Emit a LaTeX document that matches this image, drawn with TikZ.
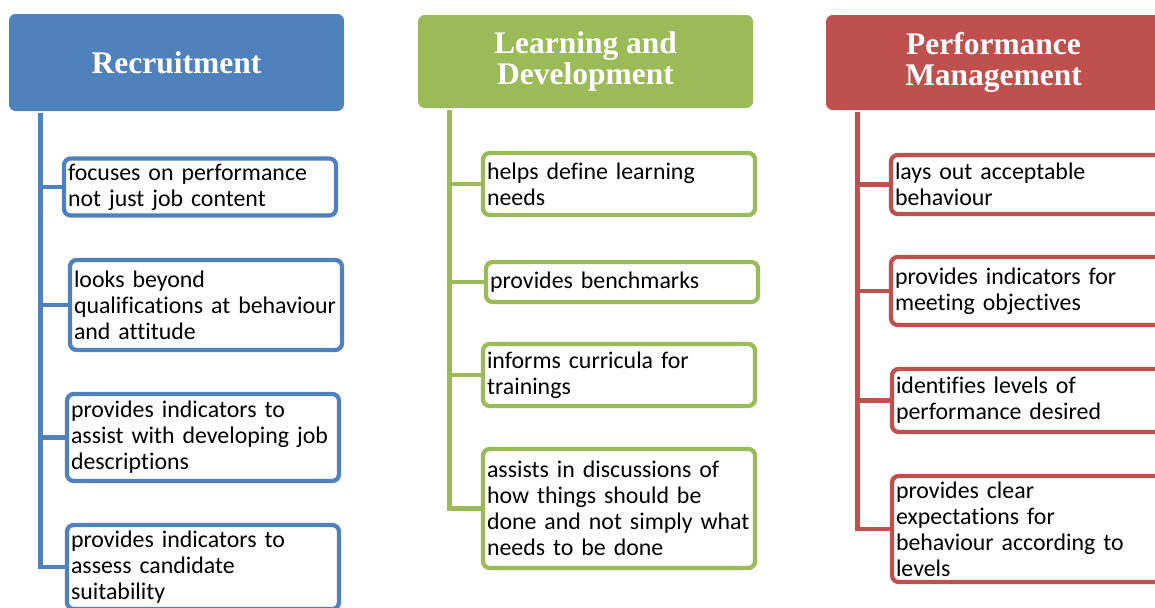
\documentclass[tikz,border=0pt]{standalone}
\usepackage{fontspec}
\setmainfont{Carlito}[Ligatures=NoCommon]
\newfontfamily\headfam{Liberation Serif}
\usepackage{tikz}
\definecolor{recblue}{HTML}{4F81BD}
\definecolor{lndgreen}{HTML}{9BBB59}
\definecolor{pmred}{HTML}{C0504D}
\tikzset{
	head/.style={rounded corners=5pt, fill=#1, text=white, align=center, minimum width=251.25pt, inner sep=0pt, font=\headfam\bfseries\fontsize{23.6}{22.8}\selectfont},
	item/.style={draw=#1, line width=3.2pt, rounded corners=5pt, fill=white, align=left, text width=198pt, inner xsep=3pt, inner ysep=1pt, font=\fontsize{17.9}{19.5}\selectfont},
	trunk/.style={draw=#1, line width=3.2pt}
}

\begin{document}
\begin{tikzpicture}[x=0.75pt,y=-0.75pt]
					\useasboundingbox (0,0) rectangle (1155,607);
					\node[head=recblue, minimum height=72.75pt] (rec) at (176.5,62.5) {Recruitment};
					\node[head=lndgreen, minimum height=69.75pt] (lnd) at (585.5,61.5) {Learning and\\Development};
					\node[head=pmred, minimum height=71.25pt] (pm) at (993.5,62.5) {Performance\\Management};
					\coordinate (rtop) at (40.5,113);
					\coordinate (ltop) at (449.5,110);
					\coordinate (ptop) at (857.5,112);
					\node[item=recblue, minimum height=42.75pt] (r1) at (200,187) {focuses on performance\\not just job content};
					\node[item=recblue, minimum height=67.5pt] (r2) at (206,305) {looks beyond\\qualifications at behaviour\\and attitude};
					\node[item=recblue, minimum height=65.25pt] (r3) at (203,437.5) {provides indicators to\\assist with developing job\\descriptions};
					\node[item=recblue, minimum height=63pt] (r4) at (203,567) {provides indicators to\\assess candidate\\suitability};
					\node[item=lndgreen, minimum height=46.5pt] (l1) at (619,184) {helps define learning\\needs};
					\node[item=lndgreen, minimum height=30pt] (l2) at (622,282) {provides benchmarks};
					\node[item=lndgreen, minimum height=46.5pt] (l3) at (619,375) {informs curricula for\\trainings};
					\node[item=lndgreen, minimum height=89.25pt] (l4) at (619,508.5) {assists in discussions of\\how things should be\\done and not simply what\\needs to be done};
					\node[item=pmred, minimum height=44.25pt] (p1) at (1027,184.5) {lays out acceptable\\behaviour};
					\node[item=pmred, minimum height=51pt] (p2) at (1027,291) {provides indicators for\\meeting objectives};
					\node[item=pmred, minimum height=47.25pt] (p3) at (1028,400.5) {identifies levels of\\performance desired};
					\node[item=pmred, minimum height=79.5pt] (p4) at (1028,529) {provides clear\\expectations for\\behaviour according to\\levels};
					\draw[trunk=recblue] (rtop) |- (r1.west);\draw[trunk=recblue] (rtop) |- (r2.west);\draw[trunk=recblue] (rtop) |- (r3.west);\draw[trunk=recblue] (rtop) |- (r4.west);
					\draw[trunk=lndgreen] (ltop) |- (l1.west);\draw[trunk=lndgreen] (ltop) |- (l2.west);\draw[trunk=lndgreen] (ltop) |- (l3.west);\draw[trunk=lndgreen] (ltop) |- (l4.west);
					\draw[trunk=pmred] (ptop) |- (p1.west);\draw[trunk=pmred] (ptop) |- (p2.west);\draw[trunk=pmred] (ptop) |- (p3.west);\draw[trunk=pmred] (ptop) |- (p4.west);
				\end{tikzpicture}
\end{document}
